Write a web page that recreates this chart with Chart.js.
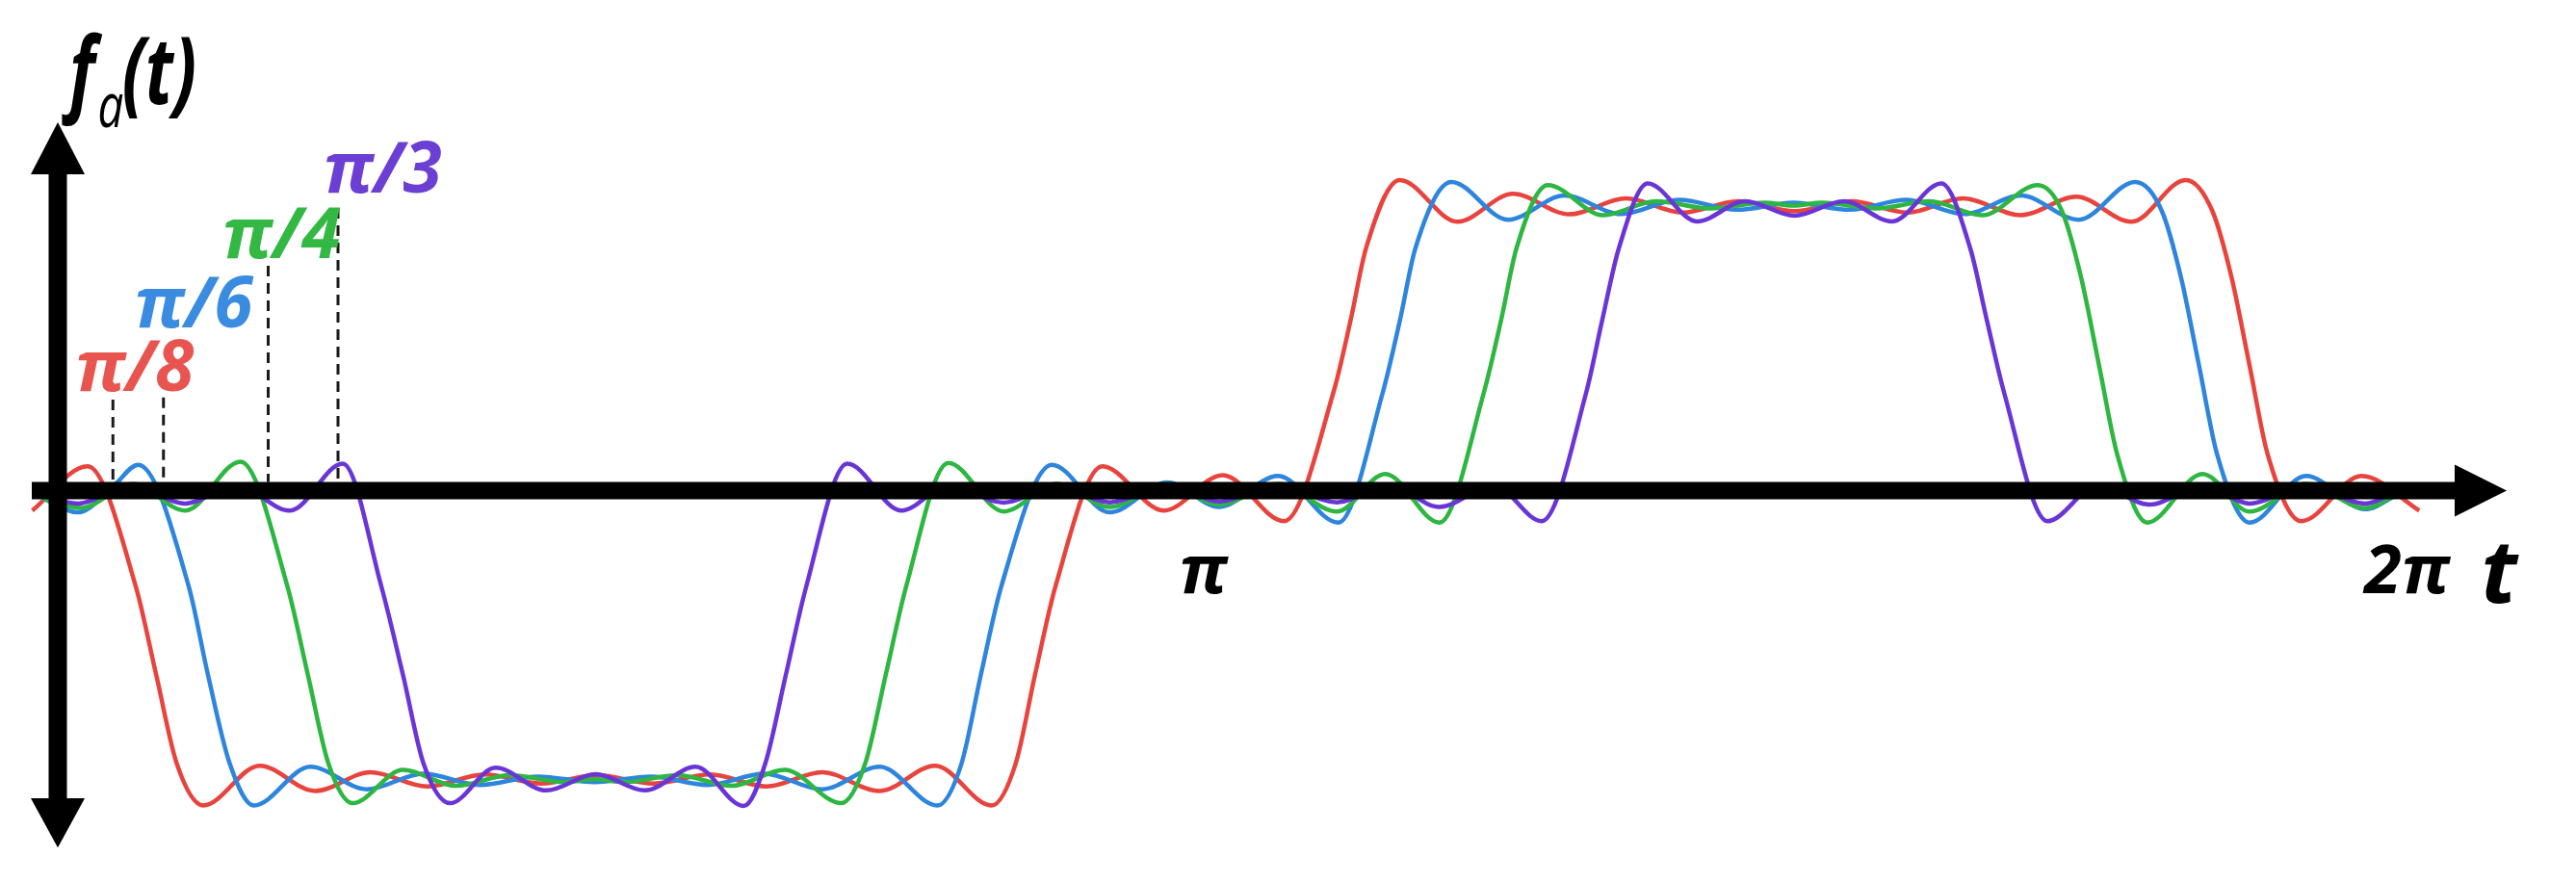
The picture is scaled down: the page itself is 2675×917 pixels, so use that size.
<!DOCTYPE html>
<html>
<head>
<meta charset="utf-8">
<script src="https://cdn.jsdelivr.net/npm/chart.js@4.4.0/dist/chart.umd.min.js"></script>
<style>
  html, body { margin: 0; padding: 0; background: #fff; }
  #wrap { width: 2675px; height: 917px; }
</style>
</head>
<body>
<div id="wrap"><canvas id="chart" width="2675" height="917"></canvas></div>
<script>
// t is in units of pi, f in units of the plateau height
const tRed = [0.036, 0.082, 0.122, 0.139, 0.156, 0.178, 0.225, 0.271, 0.317, 0.364, 0.412, 0.459, 0.505, 0.552, 0.599, 0.646, 0.692, 0.740, 0.786, 0.833, 0.853, 0.869, 0.886, 0.925, 0.976, 1.025, 1.076, 1.117, 1.131, 1.144, 1.172, 1.220, 1.266, 1.313, 1.360, 1.407, 1.453, 1.500, 1.547, 1.594, 1.640, 1.688, 1.734, 1.780, 1.825, 1.847, 1.863, 1.878, 1.893, 1.921, 1.971, 2.019];
const fRed = [-0.089, 0.067, -0.356, -0.668, -0.979, -1.127, -0.987, -1.076, -1.010, -1.060, -1.018, -1.050, -1.020, -1.050, -1.018, -1.060, -1.010, -1.076, -0.987, -1.127, -0.979, -0.668, -0.356, 0.067, -0.089, 0.036, -0.126, 0.328, 0.577, 0.834, 1.075, 0.928, 1.026, 0.954, 1.010, 0.960, 1.000, 0.965, 1.000, 0.960, 1.010, 0.951, 1.016, 0.928, 1.075, 0.967, 0.733, 0.422, 0.110, -0.126, 0.033, -0.089];

const tBlue = [0.044, 0.074, 0.104, 0.124, 0.166, 0.182, 0.200, 0.220, 0.267, 0.314, 0.361, 0.408, 0.456, 0.503, 0.550, 0.597, 0.644, 0.692, 0.740, 0.788, 0.808, 0.824, 0.841, 0.883, 0.931, 0.979, 1.022, 1.071, 1.121, 1.158, 1.172, 1.185, 1.215, 1.262, 1.309, 1.356, 1.404, 1.452, 1.499, 1.546, 1.593, 1.641, 1.688, 1.736, 1.783, 1.805, 1.821, 1.836, 1.851, 1.878, 1.925, 1.974, 2.002];
const fBlue = [-0.045, -0.095, 0.000, 0.072, -0.356, -0.668, -0.979, -1.127, -0.991, -1.070, -1.015, -1.055, -1.025, -1.045, -1.025, -1.055, -1.015, -1.070, -0.991, -1.127, -0.979, -0.668, -0.356, 0.072, -0.095, 0.010, -0.076, 0.033, -0.131, 0.328, 0.577, 0.834, 1.068, 0.935, 1.020, 0.955, 1.005, 0.970, 0.995, 0.970, 1.005, 0.955, 1.020, 0.935, 1.068, 0.967, 0.733, 0.422, 0.110, -0.131, 0.033, -0.084, -0.030];

const tGreen = [0.044, 0.076, 0.120, 0.163, 0.209, 0.248, 0.265, 0.282, 0.302, 0.344, 0.388, 0.433, 0.478, 0.503, 0.528, 0.572, 0.617, 0.661, 0.708, 0.728, 0.745, 0.762, 0.797, 0.843, 0.887, 0.931, 0.979, 1.022, 1.071, 1.120, 1.160, 1.205, 1.242, 1.256, 1.269, 1.295, 1.341, 1.385, 1.430, 1.475, 1.499, 1.523, 1.568, 1.612, 1.656, 1.702, 1.722, 1.738, 1.753, 1.768, 1.793, 1.839, 1.878, 1.925, 1.974, 2.001];
const fGreen = [-0.045, -0.080, 0.005, -0.089, 0.083, -0.356, -0.668, -0.979, -1.119, -1.002, -1.058, -1.020, -1.045, -1.035, -1.045, -1.020, -1.058, -1.002, -1.119, -0.979, -0.668, -0.356, 0.079, -0.092, 0.005, -0.076, 0.005, -0.068, 0.005, -0.092, 0.040, -0.131, 0.328, 0.577, 0.834, 1.057, 0.951, 1.000, 0.975, 0.995, 0.985, 0.995, 0.975, 1.000, 0.951, 1.057, 0.967, 0.733, 0.422, 0.110, -0.131, 0.040, -0.092, 0.005, -0.080, -0.030];

const tPurple = [0.039, 0.074, 0.118, 0.163, 0.206, 0.250, 0.294, 0.326, 0.344, 0.361, 0.383, 0.421, 0.463, 0.504, 0.545, 0.587, 0.627, 0.645, 0.662, 0.679, 0.713, 0.758, 0.797, 0.843, 0.887, 0.931, 0.979, 1.022, 1.071, 1.120, 1.163, 1.205, 1.250, 1.290, 1.327, 1.340, 1.354, 1.378, 1.419, 1.459, 1.500, 1.541, 1.581, 1.622, 1.646, 1.660, 1.674, 1.710, 1.752, 1.795, 1.839, 1.878, 1.925, 1.974, 2.001];
const fPurple = [-0.030, -0.064, 0.000, -0.064, 0.000, -0.089, 0.076, -0.356, -0.668, -0.979, -1.119, -0.994, -1.074, -1.017, -1.074, -0.991, -1.129, -0.979, -0.668, -0.356, 0.076, -0.089, 0.000, -0.061, 0.000, -0.060, 0.000, -0.057, 0.000, -0.060, 0.000, -0.076, 0.000, -0.126, 0.328, 0.577, 0.834, 1.063, 0.929, 1.000, 0.949, 1.000, 0.929, 1.063, 0.834, 0.577, 0.328, -0.126, 0.000, -0.068, 0.000, -0.064, 0.000, -0.064, -0.020];

// the a values, where each dashed marker stands and how high it reaches
const aLabels = ['π/8', 'π/6', 'π/4', 'π/3'];
const dashT = [0.103, 0.145, 0.232, 0.290];
const dashTop = [0.302, 0.309, 0.773, 0.976];

// t axis tick labels
const tickValues = [1, 2];
const tickLabels = ['π', '2π'];

const colors = ['#e8433d', '#2e85de', '#2db642', '#6a35d6'];
const labelColors = ['#e85550', '#3a8ce0', '#33b844', '#6c3fd4'];

function toPoints(ts, fs) {
    return ts.map((t, i) => ({ x: t, y: fs[i] }));
}

const series = [
    { name: 'π/3', t: tPurple, f: fPurple, color: colors[3] },
    { name: 'π/4', t: tGreen, f: fGreen, color: colors[2] },
    { name: 'π/6', t: tBlue, f: fBlue, color: colors[1] },
    { name: 'π/8', t: tRed, f: fRed, color: colors[0] }
];

// axes, arrows, dashed markers and all the text
const sketchPlugin = {
    id: 'sketch',
    afterDatasetsDraw(chart) {
        const { ctx, scales: { x, y } } = chart;
        const y0 = y.getPixelForValue(-0.019);   // the drawn t axis sits a touch below f = 0
        const xAxisPx = x.getPixelForValue(0.0572);
        ctx.save();

        // dashed markers
        ctx.strokeStyle = '#1a1a1a';
        ctx.lineWidth = 3;
        ctx.setLineDash([11, 7]);
        dashT.forEach((t, i) => {
            const px = x.getPixelForValue(t);
            ctx.beginPath();
            ctx.moveTo(px, y.getPixelForValue(dashTop[i]));
            ctx.lineTo(px, y0 - 9);
            ctx.stroke();
        });
        ctx.setLineDash([]);

        // t axis
        ctx.fillStyle = '#000';
        ctx.strokeStyle = '#000';
        ctx.lineWidth = 18;
        const xStart = x.getPixelForValue(0.0356);
        const xBase = x.getPixelForValue(2.0484);
        const xTip = x.getPixelForValue(2.0916);
        ctx.beginPath();
        ctx.moveTo(xStart, y0);
        ctx.lineTo(xBase + 2, y0);
        ctx.stroke();
        ctx.beginPath();
        ctx.moveTo(xTip, y0);
        ctx.lineTo(xBase, y0 - 27);
        ctx.lineTo(xBase, y0 + 27);
        ctx.closePath();
        ctx.fill();

        // f axis
        ctx.lineWidth = 19;
        const yTopTip = y.getPixelForValue(1.278);
        const yTopBase = y.getPixelForValue(1.095);
        const yBotBase = y.getPixelForValue(-1.102);
        const yBotTip = y.getPixelForValue(-1.275);
        ctx.beginPath();
        ctx.moveTo(xAxisPx, yTopBase - 2);
        ctx.lineTo(xAxisPx, yBotBase + 2);
        ctx.stroke();
        ctx.beginPath();
        ctx.moveTo(xAxisPx, yTopTip);
        ctx.lineTo(xAxisPx - 28, yTopBase);
        ctx.lineTo(xAxisPx + 28, yTopBase);
        ctx.closePath();
        ctx.fill();
        ctx.beginPath();
        ctx.moveTo(xAxisPx, yBotTip);
        ctx.lineTo(xAxisPx - 28, yBotBase);
        ctx.lineTo(xAxisPx + 28, yBotBase);
        ctx.closePath();
        ctx.fill();

        // a labels above the dashed markers
        const labelPos = [[0.121, 0.332], [0.170, 0.556], [0.243, 0.800], [0.327, 1.031]];
        ctx.textAlign = 'center';
        ctx.textBaseline = 'alphabetic';
        ctx.font = 'bold italic 73px "Open Sans"';
        aLabels.forEach((txt, i) => {
            ctx.fillStyle = labelColors[i];
            ctx.fillText(txt, x.getPixelForValue(labelPos[i][0]), y.getPixelForValue(labelPos[i][1]));
        });

        // tick labels and axis names
        ctx.fillStyle = '#000';
        ctx.font = 'bold italic 70px "Open Sans"';
        tickValues.forEach((v, i) => {
            ctx.fillText(tickLabels[i], x.getPixelForValue(v) + 11, y0 + 106);
        });
        ctx.font = 'bold italic 92px "Open Sans"';
        ctx.fillText('t', xTip - 8, y0 + 116);

        // f_a(t), drawn a little condensed
        ctx.textAlign = 'left';
        ctx.translate(xAxisPx + 12, 108);
        ctx.scale(0.74, 1);
        let px = 0;
        ctx.font = 'bold italic 96px "Open Sans"';
        ctx.fillText('f', px, 0);
        px += ctx.measureText('f').width + 4;
        ctx.font = 'italic 64px "Open Sans"';
        ctx.fillText('a', px, 24);
        px += ctx.measureText('a').width - 2;
        ctx.font = 'bold italic 96px "Open Sans"';
        ctx.fillText('(t)', px, 0);

        ctx.restore();
    }
};

new Chart(document.getElementById('chart').getContext('2d'), {
    type: 'line',
    data: {
        datasets: series.map(s => ({
            label: s.name,
            data: toPoints(s.t, s.f),
            borderColor: s.color,
            backgroundColor: s.color,
            borderWidth: 4.5,
            pointRadius: 0,
            fill: false,
            cubicInterpolationMode: 'monotone'
        }))
    },
    options: {
        responsive: false,
        animation: false,
        devicePixelRatio: 1,
        layout: { padding: 0 },
        plugins: {
            legend: { display: false },
            tooltip: { enabled: false }
        },
        scales: {
            x: { type: 'linear', min: 0.0092, max: 2.1492, display: false },
            y: { type: 'linear', min: -1.400, max: 1.7085, display: false }
        }
    },
    plugins: [sketchPlugin]
});
</script>
</body>
</html>
